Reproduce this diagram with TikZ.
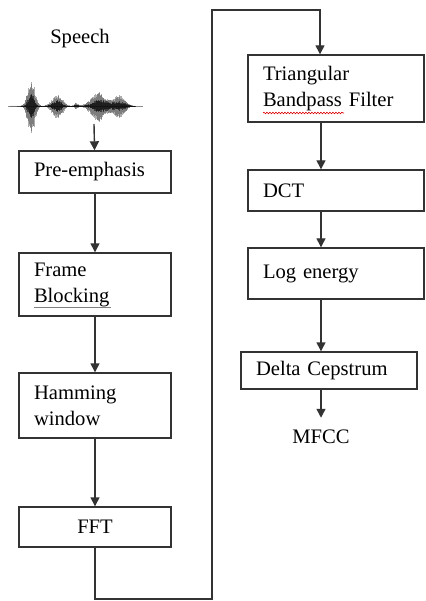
\documentclass[tikz,border=0pt]{standalone}
\usepackage{fontspec}
\setmainfont{Liberation Serif}
\usetikzlibrary{arrows.meta,decorations.pathmorphing}

\begin{document}
\begin{tikzpicture}[x=1pt,y=-1pt,
	every node/.style={font=\fontsize{20.6}{26}\selectfont},
	box/.style={draw=black!80, line width=1.4pt, inner xsep=15pt, inner ysep=0pt, align=left},
	leftbox/.style={box, text width=122pt},
	rightbox/.style={box, text width=146pt},
	flow/.style={draw=black!80, line width=1.4pt, -{Triangle[length=9pt,width=9pt]}},
	declare function={bump(\t,\m,\s)=exp(-min(((\t-\m)/\s)*((\t-\m)/\s),30));}]
\useasboundingbox (0,0) rectangle (425,601);

% speech signal
\node (speech) at (80,39) {Speech};
\draw[black!45, line width=0.7pt] (8,106) -- (143,106);
\pgfmathsetseed{11}
\foreach \i in {0,...,250} {
	\pgfmathsetmacro\x{10+\i*0.5}
	\pgfmathsetmacro\a{(28*bump(\x,31,5) + 12*bump(\x,57,7) + 3*bump(\x,76,2.5)
		+ 14*bump(\x,98,10) + 11*bump(\x,119,8))*(0.6+0.4*rnd)}
	\draw[black!80, line width=0.7pt, opacity=0.4] (\x,106-\a) -- (\x,106+1.15*\a);
}
\foreach \i in {0,...,250} {
	\pgfmathsetmacro\x{10+\i*0.5}
	\pgfmathsetmacro\a{(14*bump(\x,31,4) + 6*bump(\x,57,6) + 1.5*bump(\x,76,2.5)
		+ 7*bump(\x,100,10) + 5*bump(\x,119,8))*(0.5+0.5*rnd)}
	\draw[black, line width=0.7pt, opacity=0.5] (\x,106-\a) -- (\x,106+\a);
}
\coordinate (wave) at (94,124);

% left column
\node[leftbox, minimum height=42pt] (pre) at (95,172) {Pre-emphasis};
\node[leftbox, minimum height=63pt] (frame) at (95,284.5) {Frame\\Blocking};
\node[leftbox, minimum height=65pt] (hamming) at (95,405.5) {Hamming\\window};
\node[leftbox, minimum height=40pt, align=center] (fft) at (95,527) {FFT};

% right column
\node[rightbox, minimum height=67pt] (tri) at (336,88.5) {Triangular\\Bandpass Filter};
\node[rightbox, minimum height=41pt] (dct) at (336,190.5) {DCT};
\node[rightbox, minimum height=51pt] (loge) at (336,273.5) {Log energy};
\node[rightbox, minimum height=37pt] (delta) at (329,370.5) {Delta Cepstrum};
\node[outer sep=9pt] (mfcc) at (321,437) {MFCC};

% marks under the words
\draw[black!50, line width=0.6pt] (34,307) -- (111,307);
\draw[red!85!black, line width=0.6pt, decorate,
	decoration={snake, segment length=3pt, amplitude=0.8pt}] (263,113) -- (344,113);

% arrows
\draw[flow] (wave) -- (pre);
\foreach \a/\b in {pre/frame, frame/hamming, hamming/fft}
	\draw[flow] (\a) -- (\b);
\coordinate (loopb) at (212,599);
\coordinate (loopt) at (212,10);
\draw[flow] (fft.south) |- (loopb) -- (loopt) -| ([xshift=-16pt]tri.north);
\foreach \a/\b in {tri/dct, dct/loge, loge/delta}
	\draw[flow] ([xshift=-15pt]\a.south) -- ([xshift=-15pt]\a.south |- \b.north);
\draw[flow] (delta.south -| mfcc) -- (mfcc);
\end{tikzpicture}
\end{document}
